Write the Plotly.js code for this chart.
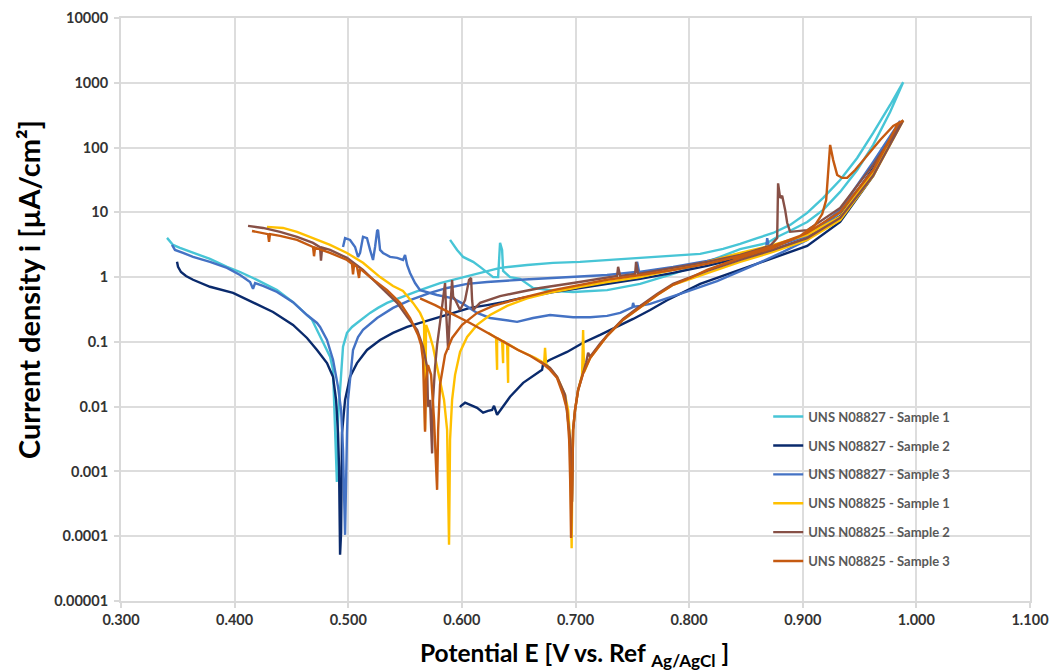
<!DOCTYPE html>
<html>
<head>
<meta charset="utf-8">
<script src="https://cdn.plot.ly/plotly-3.0.1.min.js"></script>
<style>html,body{margin:0;padding:0;background:#fff;}#chart{width:1051px;height:670px;}</style>
</head>
<body>
<div id="chart"></div>
<script>
// ---- Data (E in V vs Ag/AgCl, i in µA/cm²) ----
const seriesNames = ["UNS N08827 - Sample 1","UNS N08827 - Sample 2","UNS N08827 - Sample 3","UNS N08825 - Sample 1","UNS N08825 - Sample 2","UNS N08825 - Sample 3"];
const seriesColors = ["#47C5D6","#0A2A6C","#4472C4","#FFC000","#875046","#C55A11"];

const s27_1E = [0.3405,0.3431,0.3458,0.3519,0.3634,0.3783,0.3933,0.4048,0.4162,0.4268,0.4373,0.4514,0.4637,0.4681,0.4725,0.4778,0.4840,0.4866,0.4884,0.4900,0.4910,0.4928,0.4945,0.4954,0.4989,0.5033,0.5077,0.5130,0.5192,0.5262,0.5342,0.5430,0.5518,0.5632,0.5808,0.5984,0.6160,0.6336,0.6574,0.6803,0.7040,0.7278,0.7657,0.8097,0.8299,0.8449,0.8599,0.8739,0.8889,0.9039,0.9180,0.9329,0.9479,0.9620,0.9769,0.9884,
  0.9769,0.9620,0.9479,0.9329,0.9180,0.9039,0.8889,0.8775,0.8687,0.8449,0.8158,0.7859,0.7569,0.7278,0.6979,0.6820,0.6688,0.6627,0.6512,0.6424,0.6363,0.6354,0.6336,0.6327,0.6319,0.6275,0.6222,0.6160,0.6099,0.6011,0.5958,0.5923,0.5896];
const s27_1I = [4.03,3.49,3.14,2.83,2.36,1.91,1.44,1.20,0.97,0.785,0.63,0.41,0.26,0.22,0.153,0.097,0.059,0.037,0.0063,0.00069,0.0063,0.018,0.053,0.084,0.138,0.17,0.196,0.234,0.28,0.335,0.40,0.46,0.53,0.63,0.81,0.97,1.16,1.39,1.54,1.66,1.72,1.84,2.05,2.28,2.72,3.25,4.0,4.8,6.4,9.8,16.7,31.6,69,168,454,1020,
  354,110,45,20.7,10.9,7.1,5.2,4.17,3.37,2.70,1.72,1.12,0.785,0.63,0.59,0.61,0.66,0.68,0.94,1.0,1.25,2.63,3.37,1.72,1.0,1.0,1.20,1.44,1.72,2.05,2.63,3.14,3.75];

const s27_2E = [0.3493,0.3502,0.3528,0.3572,0.3634,0.3783,0.3986,0.4162,0.4338,0.4514,0.4637,0.4725,0.4813,0.4866,0.4893,0.4910,0.4919,0.4928,0.4937,0.4945,0.4972,0.5016,0.5077,0.5165,0.5280,0.5394,0.5518,0.5632,0.5782,0.5923,0.6072,0.6222,0.6363,0.6512,0.6803,0.7040,0.7278,0.7569,0.7859,0.8158,0.8449,0.8739,0.9039,0.9329,0.9620,0.9857,
  0.9620,0.9329,0.9039,0.8739,0.8449,0.8097,0.7806,0.7657,0.7507,0.7366,0.7217,0.7067,0.6926,0.6776,0.6715,0.6706,0.6539,0.6424,0.6336,0.6310,0.6283,0.6266,0.6230,0.6187,0.6134,0.6072,0.6028,0.5993,0.5984];
const s27_2I = [1.72,1.44,1.2,1.04,0.91,0.71,0.57,0.41,0.29,0.183,0.115,0.075,0.047,0.029,0.0127,0.0039,0.00118,0.000052,0.000113,0.0039,0.0127,0.029,0.047,0.075,0.107,0.138,0.17,0.196,0.234,0.28,0.335,0.37,0.41,0.47,0.59,0.68,0.785,0.94,1.16,1.49,1.98,2.63,4.0,8.8,48,248,
  36.5,7.1,3.03,1.98,1.29,0.785,0.44,0.31,0.226,0.17,0.128,0.097,0.070,0.053,0.046,0.037,0.0233,0.0142,0.0089,0.0075,0.0103,0.0089,0.0086,0.0081,0.0096,0.0107,0.0115,0.0103,0.0098];

const s27_3E = [0.3449,0.3475,0.3546,0.3634,0.3783,0.3933,0.4048,0.4136,0.4162,0.4180,0.4250,0.4373,0.4514,0.4637,0.4725,0.4752,0.4813,0.4866,0.4910,0.4937,0.4954,0.4972,0.4989,0.4998,0.5042,0.5086,0.5130,0.5254,0.5394,0.5544,0.5720,0.5870,0.6046,0.6222,0.6512,0.6803,0.7040,0.7278,0.7533,0.7542,0.7560,0.7859,0.8158,0.8449,0.8678,0.8687,0.8704,0.9039,0.9329,0.9620,0.9857,
  0.9620,0.9329,0.9039,0.8827,0.8537,0.8246,0.7947,0.7657,0.7569,0.7516,0.7507,0.7500,0.7393,0.7278,0.7129,0.6979,0.6776,0.6627,0.6486,0.6336,0.6248,0.6134,0.6011,0.5923,0.5782,0.5632,0.5588,0.5544,0.5518,0.5500,0.5482,0.5430,0.5368,0.5306,0.5280,0.5262,0.5254,0.5236,0.5218,0.5192,0.5165,0.5130,0.5104,0.5086,0.5060,0.5016,0.4972,0.4954];
const s27_3I = [3.14,2.63,2.36,2.05,1.72,1.39,1.08,0.84,0.66,0.81,0.73,0.59,0.41,0.26,0.196,0.17,0.107,0.053,0.0202,0.0089,0.00215,0.000105,0.0039,0.0127,0.075,0.119,0.153,0.234,0.335,0.44,0.57,0.68,0.785,0.84,0.91,0.97,1.0,1.08,1.2,1.72,1.2,1.44,1.78,2.28,2.83,4.0,2.83,4.33,10.9,60,257,
  45,10.1,3.75,2.45,1.44,0.87,0.57,0.386,0.36,0.35,0.40,0.34,0.28,0.252,0.24,0.24,0.26,0.234,0.204,0.22,0.234,0.28,0.386,0.47,0.53,0.63,0.81,1.16,1.54,2.20,1.84,1.98,2.05,2.36,2.63,5.35,5.2,2.92,1.84,2.63,4.0,4.2,2.36,2.05,2.92,3.75,4.0,2.92];

const s25_1E = [0.4285,0.4426,0.4549,0.4690,0.4840,0.4989,0.5130,0.5280,0.5394,0.5482,0.5570,0.5632,0.5667,0.5676,0.5685,0.5711,0.5746,0.5782,0.5817,0.5843,0.5870,0.5887,0.5896,0.5914,0.5940,0.5984,0.6046,0.6134,0.6248,0.6398,0.6574,0.6803,0.6953,0.7040,0.7278,0.7569,0.7859,0.8158,0.8449,0.8739,0.9039,0.9329,0.9620,0.9884,
  0.9620,0.9329,0.9039,0.8739,0.8449,0.8158,0.7859,0.7718,0.7569,0.7419,0.7278,0.7217,0.7129,0.7076,0.7067,0.7058,0.7023,0.6996,0.6979,0.6970,0.6966,0.6961,0.6953,0.6935,0.6908,0.6838,0.6776,0.6741,0.6732,0.6724,0.6644,0.6495,0.6407,0.6407,0.6398,0.6363,0.6363,0.6354,0.6310,0.6310,0.6301,0.6231];
const s25_1I = [5.96,5.74,4.99,4.03,3.14,2.36,1.66,1.0,0.73,0.61,0.40,0.28,0.204,0.0044,0.183,0.138,0.084,0.041,0.022,0.0127,0.0044,0.000074,0.0031,0.0127,0.031,0.070,0.119,0.183,0.26,0.36,0.47,0.59,0.66,0.71,0.84,1.0,1.29,1.72,2.36,3.14,4.5,8.5,42,262,
  36.5,7.6,3.75,2.45,1.72,1.16,0.76,0.53,0.347,0.22,0.124,0.090,0.0566,0.0344,0.153,0.031,0.018,0.0089,0.0044,0.00036,0.000065,0.00036,0.0031,0.0089,0.0152,0.0288,0.0397,0.046,0.081,0.047,0.0566,0.075,0.093,0.0233,0.093,0.103,0.047,0.103,0.115,0.037,0.115,0.138];

const s25_2E = [0.4118,0.4250,0.4400,0.4549,0.4690,0.4752,0.4760,0.4770,0.4840,0.4989,0.5130,0.5218,0.5342,0.5430,0.5518,0.5606,0.5658,0.5694,0.5702,0.5720,0.5738,0.5746,0.5764,0.5782,0.5808,0.5835,0.5852,0.5861,0.5870,0.5879,0.5896,0.5914,0.5923,0.5940,0.5984,0.6028,0.6063,0.6081,0.6090,0.6099,0.6160,0.6336,0.6512,0.6688,0.6979,0.7217,0.7366,0.7375,0.7393,0.7525,0.7533,0.7551,0.7859,0.8158,0.8449,0.8713,0.8775,0.8783,0.8801,0.8819,0.8845,0.8863,0.8889,0.9039,0.9329,0.9620,0.9884,
  0.9620,0.9329,0.9039,0.8739,0.8449,0.8158,0.7859,0.7745,0.7718,0.7569,0.7419,0.7278,0.7217,0.7129,0.7111,0.7094,0.7067,0.7023,0.6996,0.6979,0.6970,0.6953,0.6908,0.6838,0.6776,0.6688];
const s25_2I = [6.17,5.74,4.99,4.17,3.37,2.9,1.8,2.85,2.63,1.98,1.29,0.91,0.57,0.40,0.243,0.153,0.084,0.041,0.010,0.0127,0.0019,0.0127,0.041,0.09,0.2,0.5,0.81,0.3,0.138,0.075,0.3,0.9,0.5,0.45,0.31,0.44,0.91,0.97,0.44,0.31,0.40,0.51,0.59,0.68,0.81,0.94,1.04,1.44,1.04,1.12,1.72,1.12,1.39,1.72,2.2,3.03,4.0,28,16.7,18,10.9,6.9,5.0,5.3,11.7,54,262,
  37,8.2,4.0,2.63,1.84,1.25,0.785,0.59,0.55,0.36,0.226,0.125,0.094,0.059,0.068,0.048,0.033,0.018,0.0089,0.0044,0.00034,0.0031,0.0152,0.0288,0.0397,0.05];

const s25_3E = [0.4153,0.4250,0.4294,0.4303,0.4311,0.4400,0.4549,0.4690,0.4699,0.4708,0.4840,0.4989,0.5033,0.5042,0.5051,0.5077,0.5095,0.5104,0.5192,0.5342,0.5456,0.5544,0.5614,0.5641,0.5658,0.5676,0.5685,0.5702,0.5729,0.5755,0.5782,0.5791,0.5808,0.5852,0.5914,0.6002,0.6134,0.6275,0.6512,0.6803,0.7040,0.7278,0.7569,0.7859,0.8158,0.8449,0.8739,0.8977,0.9109,0.9171,0.9206,0.9224,0.9241,0.9268,0.9303,0.9347,0.9391,0.9461,0.9550,0.9681,0.9796,0.9884,
  0.9840,0.9620,0.9329,0.9039,0.8739,0.8449,0.8158,0.8009,0.7859,0.7718,0.7569,0.7419,0.7278,0.7217,0.7129,0.7067,0.7023,0.6996,0.6979,0.6970,0.6961,0.6953,0.6944,0.6926,0.6891,0.6838,0.6776,0.6706,0.6600,0.6495,0.6336,0.6204,0.6072,0.5896,0.5764,0.5632];
const s25_3I = [5.16,4.8,4.6,3.5,4.6,4.33,3.75,2.92,2.1,2.85,2.36,1.84,1.6,1.1,1.55,1.44,0.97,1.35,1.0,0.63,0.40,0.234,0.128,0.09,0.053,0.0041,0.026,0.044,0.031,0.0063,0.00052,0.0044,0.022,0.063,0.115,0.183,0.28,0.36,0.47,0.63,0.76,0.91,1.08,1.29,1.60,2.12,3.03,4.33,6.4,9.4,15.5,37.8,110,64,37.8,34,34,45,69,131,215,262,
  234,45,10.1,4.8,2.83,1.98,1.29,0.97,0.76,0.53,0.347,0.22,0.124,0.090,0.0566,0.0325,0.018,0.0089,0.0044,0.00052,0.000094,0.00075,0.0031,0.0089,0.0152,0.0277,0.037,0.047,0.061,0.075,0.107,0.148,0.196,0.28,0.37,0.47];

const yTickVals = [0.00001,0.0001,0.001,0.01,0.1,1,10,100,1000,10000];
const yTickText = ["0.00001","0.0001","0.001","0.01","0.1","1","10","100","1000","10000"];
const xAxisTitle = 'Potential E [V vs. Ref <sub>Ag/AgCl</sub> ]';
const yAxisTitle = 'Current density i [µA/cm²]';

// ---- Build traces ----
const xs = [s27_1E,s27_2E,s27_3E,s25_1E,s25_2E,s25_3E];
const ys = [s27_1I,s27_2I,s27_3I,s25_1I,s25_2I,s25_3I];
const traces = seriesNames.map((n,k)=>({
  type:'scatter', mode:'lines', name:n, x:xs[k], y:ys[k],
  legendgroup:'g'+k,
  line:{color:seriesColors[k], width:2.4},
  hoverinfo:'x+y+name'
}));

const fam = 'Lato, "Open Sans", sans-serif';
const tickFont = {family:fam, size:14.5, color:'#333333', weight:'bold'};

const layout = {
  width:1051, height:670,
  margin:{l:121, r:21, t:18, b:69},
  paper_bgcolor:'#ffffff', plot_bgcolor:'#ffffff',
  showlegend:true,
  legend:{
    x:0.712, xanchor:'left', y:0.342, yanchor:'top',
    bgcolor:'rgba(255,255,255,0)', borderwidth:0,
    traceorder:'grouped', tracegroupgap:9,
    font:{family:fam, size:13, color:'#595959', weight:'bold'}
  },
  xaxis:{
    type:'linear', range:[0.3,1.1], dtick:0.1, tick0:0.3, tickformat:'.3f',
    showgrid:true, gridcolor:'#DDDDDD', gridwidth:2,
    showline:true, linecolor:'#D9D9D9', linewidth:2, mirror:true,
    zeroline:false, ticks:'outside', ticklen:5, tickcolor:'#D9D9D9', tickwidth:2,
    tickfont:tickFont
  },
  yaxis:{
    type:'log', range:[-5,4], tickvals:yTickVals, ticktext:yTickText,
    showgrid:true, gridcolor:'#DDDDDD', gridwidth:2,
    showline:true, linecolor:'#D9D9D9', linewidth:2, mirror:true,
    zeroline:false, ticks:'outside', ticklen:5, tickcolor:'#D9D9D9', tickwidth:2,
    ticklabelstandoff:3,
    tickfont:tickFont
  },
  shapes:[
    // horizontal axis line crossing at 1 (Excel log-axis default)
    {type:'line', xref:'paper', x0:0, x1:1, yref:'y', y0:1, y1:1, line:{color:'#C4C4C4', width:1.6}, layer:'below'}
  ],
  annotations:[
    {text:xAxisTitle, xref:'paper', yref:'paper', x:0.499, y:-0.0926, xanchor:'center', yanchor:'middle', showarrow:false,
     font:{family:fam, size:24.5, color:'#000000', weight:'bold'}},
    {text:yAxisTitle, xref:'paper', yref:'paper', x:-0.1023, y:0.5334, xanchor:'center', yanchor:'middle', showarrow:false, textangle:-90,
     font:{family:fam, size:29, color:'#000000', weight:'bold'}}
  ]
};

Plotly.newPlot('chart', traces, layout, {displayModeBar:false, staticPlot:true});
</script>
</body>
</html>
